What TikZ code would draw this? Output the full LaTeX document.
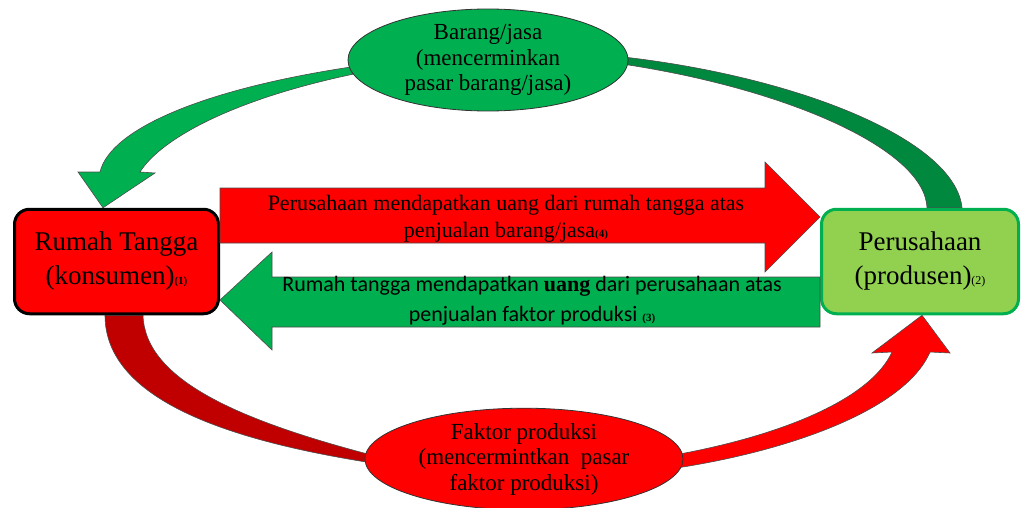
\documentclass[tikz,border=0pt]{standalone}
\usepackage{fontspec}
\setmainfont{Liberation Serif}
\newfontfamily\calibrifont{Carlito}
\usetikzlibrary{shapes.geometric,calc,backgrounds}
\definecolor{merah}{HTML}{FF0000}
\definecolor{merahtua}{HTML}{C00000}
\definecolor{hijau}{HTML}{00B050}
\definecolor{hijautua}{HTML}{00883E}
\definecolor{hijaumuda}{HTML}{92D050}

\begin{document}
\begin{tikzpicture}[
    x=1pt, y=-1pt,
    pelaku/.style={draw, rounded corners=15pt, line width=3pt, minimum width=204pt,
                 minimum height=104.5pt, align=center, font=\fontsize{27}{34}\selectfont},
    pasar/.style={ellipse, draw=black!80, line width=0.8pt, inner sep=0pt, align=center,
                 font=\fontsize{23}{25.5}\selectfont},
    panah/.style={draw=black!70, line width=0.6pt},
    ket/.style={align=center, font=\fontsize{22}{27}\selectfont},
]
\useasboundingbox (0,0) rectangle (1022,508);

\node[pelaku, fill=merah, draw=black] (rumah) at (116.5,261.5)
    {Rumah Tangga\\(konsumen){\fontsize{11}{11}\selectfont\bfseries(1)}};
\node[pelaku, fill=hijaumuda, draw=hijau, minimum width=197pt] (perusahaan) at (920,261.5)
    {Perusahaan\\(produsen){\fontsize{12}{12}\selectfont(2)}};
\node[pasar, fill=hijau, minimum width=280pt, minimum height=102pt] (barang) at (488,60)
    {Barang/jasa\\(mencerminkan\\pasar barang/jasa)};
\node[pasar, fill=merah, minimum width=318pt, minimum height=100pt] (faktor) at (524,459)
    {Faktor produksi\\(mencermintkan~ pasar\\faktor produksi)};

% aliran uang
\draw[panah, fill=merah] (rumah.east |- 0,188) -- (765,188) -- (765,162)
    -- (perusahaan.west |- 0,217) -- (765,272) -- (765,243) -- (rumah.east |- 0,243) -- cycle;
\draw[panah, fill=hijau] (perusahaan.west |- 0,277) -- (272,277) -- (272,252)
    -- (rumah.east |- 0,300) -- (272,350) -- (272,327) -- (perusahaan.west |- 0,327) -- cycle;
\node[ket] (teks4) at (506,219)
    {Perusahaan mendapatkan uang dari rumah tangga atas\\penjualan barang/jasa{\fontsize{11}{11}\selectfont\bfseries(4)}};
\node[ket, font=\calibrifont\fontsize{22}{30}\selectfont] (teks3) at (532,301)
    {Rumah tangga mendapatkan {\rmfamily\bfseries uang} dari perusahaan atas\\penjualan faktor produksi {\rmfamily\fontsize{11}{11}\selectfont\bfseries(3)}};

% aliran barang dan faktor
\begin{scope}[on background layer]
\draw[panah, fill=hijau] (barang.183) .. controls (200,90) and (110,130) .. (100,172)
    -- (78,172) -- (rumah.north -| 103,0) -- (155,173) -- (140,172)
    .. controls (160,140) and (230,100) .. (barang.186) -- cycle;
\draw[panah, fill=hijautua] (barang.1) .. controls (800,78) and (955,140) .. (perusahaan.north -| 962,0)
    -- (perusahaan.north -| 927,0) .. controls (925,150) and (790,90) .. (barang.358) -- cycle;
\draw[panah, fill=merahtua] (rumah.south -| 105,0) .. controls (105,400) and (230,440) .. (faktor.181)
    -- (faktor.178) .. controls (240,420) and (145,380) .. (rumah.south -| 143,0) -- cycle;
\draw[panah, fill=merah] (faktor.2) .. controls (780,435) and (870,400) .. (892,352)
    -- (872,353) -- (perusahaan.south -| 922,0) -- (950,353) -- (930,352)
    .. controls (905,410) and (790,450) .. (faktor.357) -- cycle;
\end{scope}
\end{tikzpicture}
\end{document}
